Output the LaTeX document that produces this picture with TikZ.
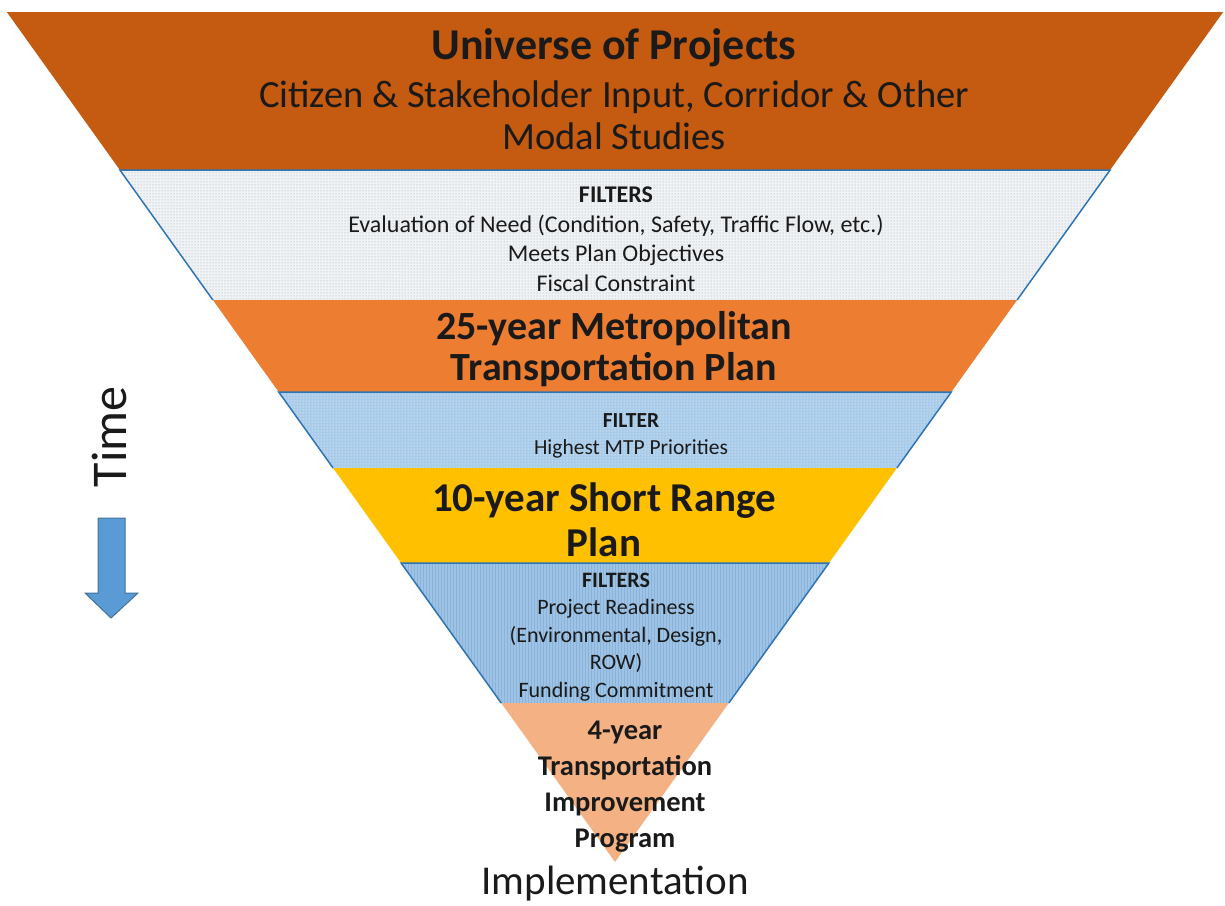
\documentclass[tikz,border=0pt]{standalone}
\usepackage{fontspec}
\setmainfont{Carlito}
\usetikzlibrary{patterns}
\definecolor{bandA}{HTML}{C55A11}
\definecolor{bandC}{HTML}{ED7D31}
\definecolor{bandE}{HTML}{FFC000}
\definecolor{bandG}{HTML}{F4B183}
\definecolor{filtB}{HTML}{F0F3F6}
\definecolor{filtD}{HTML}{A9CBEA}
\definecolor{filtF}{HTML}{9DC3E6}
\definecolor{edgeblue}{HTML}{2E75B6}
\definecolor{arrowfill}{HTML}{5B9BD5}
\definecolor{arrowedge}{HTML}{41719C}
\definecolor{txt}{HTML}{1A1A1A}
\tikzset{
  edgeline/.style={draw=edgeblue, line width=1.5pt},
  lbl/.style={align=center, text=txt, inner sep=0pt},
  big/.style={lbl, font=\fontsize{40}{41}\selectfont\bfseries},
  sub/.style={lbl, font=\fontsize{24}{29.5}\selectfont},
}
\begin{document}
\begin{tikzpicture}[x=1pt,y=-1pt]
\useasboundingbox (0,0) rectangle (1225,905);
% band coordinates
\coordinate (a1) at (6.8,12);   \coordinate (b1) at (1223.2,12);
\coordinate (a2) at (119.9,170); \coordinate (b2) at (1110.1,170);
\coordinate (a3) at (212.9,300); \coordinate (b3) at (1017.1,300);
\coordinate (a4) at (278.7,392); \coordinate (b4) at (951.3,392);
\coordinate (a5) at (333.1,468); \coordinate (b5) at (896.9,468);
\coordinate (a6) at (401.1,563); \coordinate (b6) at (828.9,563);
\coordinate (a7) at (501.2,703); \coordinate (b7) at (728.8,703);
\coordinate (apex) at (615,862);
% bands
\fill[bandA] (a1) -- (b1) -- (b2) -- (a2) -- cycle;
\fill[filtB] (a2) -- (b2) -- (b3) -- (a3) -- cycle;
\fill[pattern=dots, pattern color=gray!70] (a2) -- (b2) -- (b3) -- (a3) -- cycle;
\fill[bandC] (a3) -- (b3) -- (b4) -- (a4) -- cycle;
\fill[filtD] (a4) -- (b4) -- (b5) -- (a5) -- cycle;
\fill[pattern=dots, pattern color=white] (a4) -- (b4) -- (b5) -- (a5) -- cycle;
\fill[bandE] (a5) -- (b5) -- (b6) -- (a6) -- cycle;
\fill[filtF] (a6) -- (b6) -- (b7) -- (a7) -- cycle;
\fill[pattern=vertical lines, pattern color=edgeblue!55] (a6) -- (b6) -- (b7) -- (a7) -- cycle;
\fill[bandG] (a7) -- (b7) -- (apex) -- cycle;
% filter band outlines
\draw[edgeline] (a3) -- (a2) -- (b2) -- (b3);
\draw[edgeline] (a5) -- (a4) -- (b4) -- (b5);
\draw[edgeline] (a7) -- (a6) -- (b6) -- (b7);
% texts
\node[lbl, font=\fontsize{44}{42}\selectfont\bfseries] (t1) at (614,48) {Universe of Projects};
\node[lbl, font=\fontsize{38.5}{42}\selectfont] (t1b) at (614,115) {Citizen \& Stakeholder Input, Corridor \& Other\\Modal Studies};
\node[sub] (t2) at (616,239) {{\bfseries FILTERS}\\Evaluation of Need (Condition, Safety, Traffic Flow, etc.)\\Meets Plan Objectives\\Fiscal Constraint};
\node[big] (t3) at (614,349) {25-year Metropolitan\\Transportation Plan};
\node[sub, font=\fontsize{21.5}{27}\selectfont] (t4) at (631,435.5) {{\bfseries FILTER}\\Highest MTP Priorities};
\node[big, font=\fontsize{41}{45}\selectfont\bfseries] (t5) at (604,519.5) {10-year Short Range\\Plan};
\node[sub, font=\fontsize{22}{27.5}\selectfont] (t6) at (616,637) {{\bfseries FILTERS}\\Project Readiness\\(Environmental, Design,\\ROW)\\Funding Commitment};
\node[lbl, font=\fontsize{28.5}{36}\selectfont\bfseries] (t7) at (625,786.5) {4-year\\Transportation\\Improvement\\Program};
\node[lbl, font=\fontsize{41}{36}\selectfont] (impl) at (615,884) {Implementation};
\node[lbl, font=\fontsize{50}{40}\selectfont, rotate=90] (time) at (109,437) {Time};
% time arrow
\draw[fill=arrowfill, draw=arrowedge, line width=1pt] (98,518) -- (125,518) -- (125,593) -- (138,593) -- (111,618) -- (85,593) -- (98,593) -- cycle;
\end{tikzpicture}
\end{document}
